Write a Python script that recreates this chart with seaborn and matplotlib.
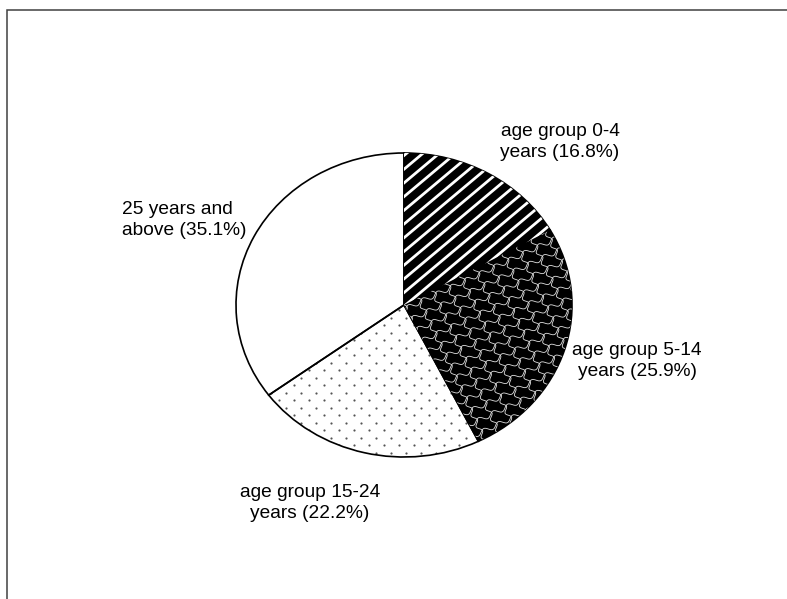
import numpy as np
import matplotlib
matplotlib.use("Agg")
import matplotlib.pyplot as plt
import seaborn as sns
from matplotlib.collections import LineCollection
from matplotlib.patches import Rectangle

# data
groups = ["age group 0-4", "age group 5-14", "age group 15-24", "25 years and"]
group_tail = ["years", "years", "years", "above"]
shares = [16.8, 25.9, 22.2, 35.1]

# label placement (pixels in the 787x599 canvas) and alignment
label_px = [(560, 142), (637, 361), (310, 503), (122, 220)]
label_ha = ["center", "center", "center", "left"]

sns.set_theme(style="white")
plt.rcParams["font.family"] = ["Liberation Sans", "DejaVu Sans"]

W, H = 787, 599
cx, cy = 404, 305      # pie centre in pixels
rx, ry = 168, 152      # pie radii in pixels (slightly squashed)

fig = plt.figure(figsize=(W / 100, H / 100), dpi=100)
ax = fig.add_axes([0, 0, 1, 1])


def to_data(px, py):
    # pixel offsets relative to centre -> data units
    return np.asarray(px) / rx, np.asarray(py) / ry


def set_frame():
    ax.set_aspect("auto")
    ax.set_xlim(-cx / rx, (W - cx) / rx)
    ax.set_ylim(-(H - cy) / ry, cy / ry)
    ax.axis("off")


wedges, _ = ax.pie(shares, startangle=90, counterclock=False,
                   colors=["black", "black", "white", "white"],
                   wedgeprops=dict(linewidth=0))
set_frame()

# --- 0-4 : diagonal stripes (white lines on black)
ang = np.deg2rad(40)
d = np.array([np.cos(ang), np.sin(ang)])
nrm = np.array([-np.sin(ang), np.cos(ang)])
t = np.array([-400, 400])
segs = []
for k in np.arange(-400, 400, 10.5):
    p = k * nrm[:, None] + d[:, None] * t[None, :]
    x, y = to_data(p[0], p[1])
    segs.append(np.column_stack([x, y]))
lc = LineCollection(segs, colors="white", linewidths=2.0)
ax.add_collection(lc)
lc.set_clip_path(wedges[0])

# --- 5-14 : white wavy net on black
segs = []
s = np.linspace(-400, 400, 600)
for ang_deg, step, amp, per in [(25, 12, 2.4, 16), (-65, 16, 2.2, 12)]:
    a = np.deg2rad(ang_deg)
    dd = np.array([np.cos(a), np.sin(a)])
    nn = np.array([-np.sin(a), np.cos(a)])
    for k in np.arange(-400, 400, step):
        off = k + amp * np.sin(2 * np.pi * s / per)
        px = dd[0] * s + nn[0] * off
        py = dd[1] * s + nn[1] * off
        x, y = to_data(px, py)
        segs.append(np.column_stack([x, y]))
lc2 = LineCollection(segs, colors="#e0e0e0", linewidths=0.6)
ax.add_collection(lc2)
lc2.set_clip_path(wedges[1])

# --- 15-24 : staggered dots
dx, dy = 15, 7.5
pts = []
for i, yy in enumerate(np.arange(-320, 40, dy)):
    xs = np.arange(-320, 320, dx) + (dx / 2 if i % 2 else 0)
    for xx in xs:
        pts.append((xx, yy))
pts = np.array(pts)
x, y = to_data(pts[:, 0], pts[:, 1])
sc = ax.scatter(x, y, s=2.5, color="#555555", linewidths=0)
sc.set_clip_path(wedges[2])

# outlines on top
ax.pie(shares, startangle=90, counterclock=False,
       wedgeprops=dict(fill=False, edgecolor="black", linewidth=1.2))
set_frame()

# labels
for g, tail, v, (lx, ly), ha in zip(groups, group_tail, shares, label_px, label_ha):
    x, y = to_data(lx - cx, cy - ly)
    ax.text(x, y, f"{g}\n{tail} ({v}%)", ha=ha, va="center",
            multialignment=ha, fontsize=13.8, linespacing=1.32, color="black")

# outer frame (only top and left edges fall inside the canvas)
fig.patches.append(Rectangle((7 / W, -0.2), 1.3, 1 - 10 / H + 0.2,
                             transform=fig.transFigure, fill=False,
                             edgecolor="#404040", linewidth=1.1))

fig.savefig("out.png", dpi=100)
